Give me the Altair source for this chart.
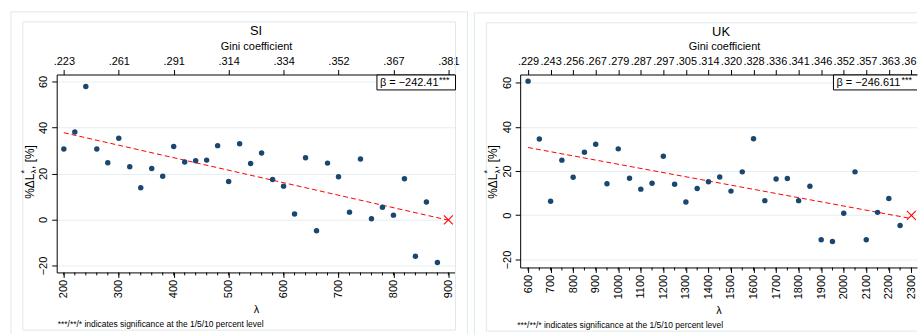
import json
import altair as alt
import pandas as pd

# ---- Slovenia (SI) ----
si_lambda = [200, 220, 240, 260, 280, 300, 320, 340, 360, 380, 400, 420, 440, 460,
             480, 500, 520, 540, 560, 580, 600, 620, 640, 660, 680, 700, 720, 740,
             760, 780, 800, 820, 840, 860, 880]
si_change = [30.6, 38.0, 57.8, 30.6, 24.7, 35.3, 22.9, 13.8, 22.2, 18.8, 31.7, 25.0,
             25.5, 25.8, 32.1, 16.5, 32.9, 24.3, 28.9, 17.4, 14.5, 2.4, 26.8, -4.9,
             24.5, 18.6, 3.2, 26.3, 0.3, 5.3, 1.9, 17.7, -16.0, 7.6, -18.7]
si_fit_lambda = [200, 900]
si_fit_change = [37.7, -0.3]
si_cross_lambda = [900]
si_cross_change = [-0.2]
si_major = [200, 300, 400, 500, 600, 700, 800, 900]
si_gini_labels = [".223", ".261", ".291", ".314", ".334", ".352", ".367", ".381"]
si_beta = "β = −242.41"

# ---- United Kingdom (UK) ----
uk_lambda = [600, 650, 700, 750, 800, 850, 900, 950, 1000, 1050, 1100, 1150, 1200,
             1250, 1300, 1350, 1400, 1450, 1500, 1550, 1600, 1650, 1700, 1750, 1800,
             1850, 1900, 1950, 2000, 2050, 2100, 2150, 2200, 2250]
uk_change = [60.6, 34.5, 6.3, 24.9, 17.2, 28.5, 32.1, 14.2, 30.0, 16.7, 11.8, 14.5,
             26.7, 14.0, 6.0, 12.1, 15.1, 17.3, 10.9, 19.6, 34.6, 6.6, 16.4, 16.6,
             6.6, 13.1, -11.1, -11.9, 0.9, 19.6, -11.1, 1.3, 7.6, -4.6]
uk_fit_lambda = [600, 2300]
uk_fit_change = [30.6, -1.5]
uk_cross_lambda = [2300]
uk_cross_change = [-0.1]
uk_major = [600, 700, 800, 900, 1000, 1100, 1200, 1300, 1400, 1500, 1600, 1700,
            1800, 1900, 2000, 2100, 2200, 2300]
# the last Gini label runs off the edge of the figure, only ".36" shows
uk_gini_labels = [".229", ".243", ".256", ".267", ".279", ".287", ".297", ".305",
                  ".314", ".320", ".328", ".336", ".341", ".346", ".352", ".357",
                  ".363", ".36"]
uk_beta = "β = −246.611"

y_ticks = [-20, 0, 20, 40, 60]
FOOTNOTE = "***/**/* indicates significance at the 1/5/10 percent level"

FONT = "Liberation Sans"
NAVY = "#1a476f"
RED = "#ff0000"
FRAME = "#dfe9eb"
GRID = "#e4eef0"
INK = "#000000"

# approximate advance widths (em) of Liberation Sans glyphs used in the box label
GLYPH_EM = {"β": 0.573, " ": 0.278, "=": 0.584, "−": 0.584, ".": 0.278}

one = pd.DataFrame({"k": [0]})


def text_width(txt, size):
    return sum(GLYPH_EM.get(ch, 0.556) for ch in txt) * size


def const_text(txt, x, y, size=11, align="left", baseline="middle", angle=0, dy=0,
               clip=False):
    return alt.Chart(one).mark_text(
        text=txt, font=FONT, fontSize=size, align=align, baseline=baseline,
        angle=angle, dy=dy, color=INK, clip=clip,
    ).encode(x=alt.value(x), y=alt.value(y))


def rule(x, y, x2=None, y2=None, color=FRAME):
    enc = {"x": alt.value(x), "y": alt.value(y)}
    if x2 is not None:
        enc["x2"] = alt.value(x2)
    if y2 is not None:
        enc["y2"] = alt.value(y2)
    return alt.Chart(one).mark_rule(color=color, strokeWidth=1).encode(**enc)


def panel(name, lam, chg, fit_x, fit_y, cx, cy, major, minor_step, gini_labels,
          beta, x_dom, y_dom, W, H, top_off, box_x0, closed_right,
          title_x, gini_title_x, foot_x, foot_y, last_label_offset):
    pts = pd.DataFrame({"lam": lam, "chg": chg})
    fit = pd.DataFrame({"lam": fit_x, "chg": fit_y})
    cross = pd.DataFrame({"lam": cx, "chg": cy})
    minor = pd.DataFrame({"lam": list(range(major[0], major[-1] + 1, minor_step))})

    xs = alt.Scale(domain=x_dom, nice=False, zero=False)
    ys = alt.Scale(domain=y_dom, nice=False, zero=False)
    y_enc = alt.Y("chg:Q", scale=ys, axis=alt.Axis(
        values=y_ticks, labelAngle=270, grid=True, gridColor=GRID, gridWidth=1,
        tickSize=5, tickColor=INK, domainColor=INK, labelColor=INK,
        labelFont=FONT, labelFontSize=11, labelPadding=3, title=None))

    bottom_axis = alt.Axis(
        values=major, format="d", labelAngle=270, labelFont=FONT, labelFontSize=11,
        labelColor=INK, tickSize=5, tickColor=INK, domainColor=INK,
        labelPadding=2, labelOverlap=False, title="λ", titleFont=FONT,
        titleFontSize=11, titleFontWeight="normal", titleColor=INK,
        titlePadding=6, grid=False)
    label_expr = "%s[round((datum.value - %d) / 100)]" % (
        json.dumps(gini_labels), major[0])
    top_axis = alt.Axis(
        orient="top", values=major, labelExpr=label_expr, labelFont=FONT,
        labelFontSize=11, labelColor=INK, tickSize=5, tickColor=INK,
        domainColor=INK, labelPadding=3, labelOverlap=False,
        labelOffset={"condition": {"test": "datum.value == %d" % major[-1],
                                   "value": last_label_offset}, "value": 0},
        title="Gini coefficient", titleFont=FONT, titleFontSize=11,
        titleFontWeight="normal", titleColor=INK, titlePadding=4, titleX=gini_title_x,
        grid=False)

    # graph-region frames (outer and inner); the right panel runs off the edge
    bottom_edge = 334 - 10 + top_off
    frame_right = W + 12 if closed_right else W
    frames = [
        rule(-46, top_off, x2=frame_right),
        rule(-46, top_off, y2=bottom_edge),
        rule(-34, top_off + 10, x2=W),
        rule(-34, top_off + 10, y2=top_off + 320),
        rule(-34, top_off + 320, x2=W),
    ]
    if closed_right:
        frames.append(rule(frame_right, top_off, y2=bottom_edge))
        frames.append(rule(W, top_off + 10, y2=top_off + 320))

    points = alt.Chart(pts).mark_circle(size=30, color=NAVY, opacity=1).encode(
        x=alt.X("lam:Q", scale=xs, axis=bottom_axis), y=y_enc)
    line = alt.Chart(fit).mark_line(color=RED, strokeWidth=1, strokeDash=[5, 3]).encode(
        x=alt.X("lam:Q", scale=xs, axis=None), y=y_enc)
    mark_x = alt.Chart(cross).mark_point(
        shape="M-1,-1L1,1M1,-1L-1,1", size=81, color=RED, filled=False,
        strokeWidth=1.1, opacity=1).encode(
        x=alt.X("lam:Q", scale=xs, axis=top_axis), y=y_enc)
    minor_ticks = alt.Chart(minor).mark_rule(color=INK, strokeWidth=1).encode(
        x=alt.X("lam:Q", scale=xs, axis=None), y=alt.value(H), y2=alt.value(H + 3))

    # coefficient box in the top-right corner
    box = [
        alt.Chart(one).mark_rect(fill="white", strokeWidth=0).encode(
            x=alt.value(box_x0), x2=alt.value(W), y=alt.value(0.5), y2=alt.value(15.5)),
        rule(box_x0, 0.5, x2=W, color=INK),
        rule(box_x0, 15.5, x2=W, color=INK),
        rule(box_x0, 0.5, y2=15.5, color=INK),
    ]
    if closed_right:
        box.append(rule(W, 0.5, y2=15.5, color=INK))
    beta_main = const_text(beta, box_x0 + 3, 8.5, size=11, clip=True)
    stars_x = box_x0 + 3 + text_width(beta, 11) + 0.5
    beta_stars = const_text("***", stars_x, 6, size=9, clip=True)

    # y-axis title: %ΔL with subscript λ and superscript *
    ty = 125
    ytitle = [
        const_text("%ΔL", -27, ty, size=12, angle=270),
        const_text("λ", -22.5, ty - 25.5, size=8, angle=270),
        const_text("*", -33, ty - 25.5, size=9, angle=270),
        const_text(", [%]", -27, ty - 30, size=12, angle=270),
    ]

    title = const_text(name, title_x, top_off + 19, size=13, align="center")
    foot = const_text(FOOTNOTE, foot_x, foot_y, size=8.5)

    return alt.layer(
        *frames, line, points, mark_x, minor_ticks, *box, beta_main, beta_stars,
        *ytitle, title, foot,
    ).resolve_axis(x="independent").properties(width=W, height=H)


left = panel("SI", si_lambda, si_change, si_fit_lambda, si_fit_change,
             si_cross_lambda, si_cross_change, si_major, 20, si_gini_labels, si_beta,
             [187, 913], [-23, 63], 401, 199, -63, 322, True,
             200.5, 200.5, 1, 251, 0)
right = panel("UK", uk_lambda, uk_change, uk_fit_lambda, uk_fit_change,
              uk_cross_lambda, uk_cross_change, uk_major, 50, uk_gini_labels, uk_beta,
              [565, 2325], [-23.6, 63.6], 399, 194, -62, 315, False,
              202, 205, -3, 252, -3)

chart = alt.hconcat(left, right, spacing=5).properties(
    padding={"left": 10, "top": 10, "right": 0, "bottom": 0},
    background="white",
).configure_view(stroke=None)

chart.save("out.html", embed_options={"renderer": "svg", "actions": False})
